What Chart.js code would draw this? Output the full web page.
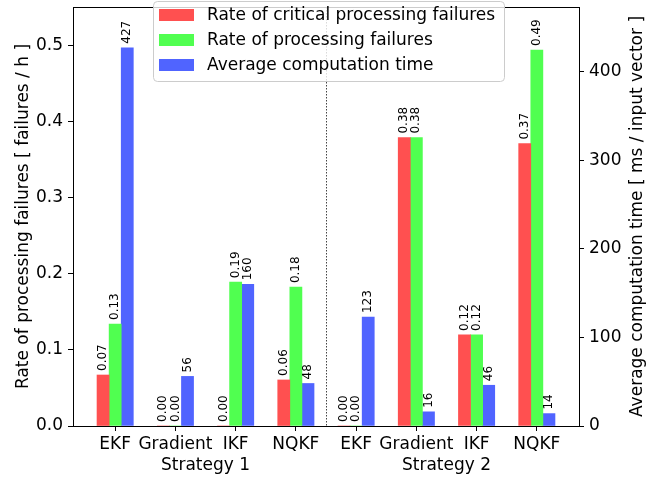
<!DOCTYPE html>
<html>
<head>
<meta charset="utf-8">
<script src="https://cdn.jsdelivr.net/npm/chart.js@4"></script>
<style>
  html, body { margin: 0; padding: 0; background: #fff; }
  #wrap { width: 667px; height: 479px; }
</style>
</head>
<body>
<div id="wrap"><canvas id="myChart"></canvas></div>
<script>
// data
const categories = ['EKF', 'Gradient', 'IKF', 'NQKF', 'EKF', 'Gradient', 'IKF', 'NQKF'];
const groups = ['Strategy 1', 'Strategy 2'];
const critFailures = [0.067, 0, 0, 0.0605, 0, 0.379, 0.1197, 0.371];
const allFailures = [0.134, 0, 0.189, 0.1825, 0, 0.379, 0.1197, 0.494];
const compTime = [427, 56, 160, 48, 123, 16, 46, 14];
const leftTicks = [0, 0.1, 0.2, 0.3, 0.4, 0.5];
const rightTicks = [0, 100, 200, 300, 400];

const seriesNames = ['Rate of critical processing failures', 'Rate of processing failures', 'Average computation time'];
const colors = ['#ff5050', '#50ff50', '#5064ff'];
const FONT = 'DejaVu Sans';
const BIG = 17;

const ctx = document.getElementById('myChart').getContext('2d');

function toPoints(arr) {
    return arr.map((v, i) => ({ x: i, y: v }));
}

// value labels above every bar, rotated like the original
const barLabels = {
    id: 'barLabels',
    afterDatasetsDraw(chart) {
        const c = chart.ctx;
        c.save();
        c.font = '12px "' + FONT + '"';
        c.fillStyle = '#000';
        c.textAlign = 'left';
        c.textBaseline = 'middle';
        chart.data.datasets.forEach((ds, di) => {
            const meta = chart.getDatasetMeta(di);
            meta.data.forEach((el, i) => {
                const v = ds.data[i].y;
                const txt = di < 2 ? v.toFixed(2) : String(Math.round(v));
                c.save();
                c.translate(el.x, el.y - 4);
                c.rotate(-Math.PI / 2);
                c.fillText(txt, 0, 0);
                c.restore();
            });
        });
        c.restore();
    }
};

// frame, separator, group names, axis titles and legend
const decor = {
    id: 'decor',
    afterDraw(chart) {
        const c = chart.ctx;
        const a = chart.chartArea;
        const xs = chart.scales.x;
        c.save();
        // dotted separator
        c.strokeStyle = '#444';
        c.lineWidth = 1;
        c.setLineDash([1.5, 1.5]);
        const sx = Math.round(xs.getPixelForValue(3.5)) + 0.5;
        c.beginPath();
        c.moveTo(sx, a.top);
        c.lineTo(sx, a.bottom);
        c.stroke();
        c.setLineDash([]);
        // box
        c.strokeStyle = '#000';
        c.strokeRect(Math.round(a.left) + 0.5, Math.round(a.top) + 0.5, Math.round(a.right - a.left), Math.round(a.bottom - a.top));

        c.fillStyle = '#000';
        c.font = BIG + 'px "' + FONT + '"';
        c.textAlign = 'center';
        c.textBaseline = 'alphabetic';
        c.fillText(groups[0], xs.getPixelForValue(1.5), 470);
        c.fillText(groups[1], xs.getPixelForValue(5.5), 470);

        const cy = (a.top + a.bottom) / 2;
        c.save();
        c.translate(27.5, cy);
        c.rotate(-Math.PI / 2);
        c.fillText('Rate of processing failures [ failures / h ]', 0, 0);
        c.restore();
        c.save();
        c.translate(641.5, cy);
        c.rotate(-Math.PI / 2);
        c.fillText('Average computation time [ ms / input vector ]', 0, 0);
        c.restore();

        // legend
        const lx = 153, ly = 1, lw = 351, lh = 80;
        c.fillStyle = 'rgba(255,255,255,0.8)';
        c.strokeStyle = '#cccccc';
        c.beginPath();
        c.roundRect(lx + 0.5, ly + 0.5, lw, lh, 4);
        c.fill();
        c.stroke();
        c.textAlign = 'left';
        c.textBaseline = 'middle';
        seriesNames.forEach((name, i) => {
            const y = 15 + i * 25;
            c.fillStyle = colors[i];
            c.fillRect(159, y - 6, 35, 12);
            c.fillStyle = '#000';
            c.fillText(name, 207, y + 1);
        });
        c.restore();
    }
};

function noPad(s) {
    s.paddingTop = 0;
    s.paddingBottom = 0;
    s.paddingLeft = 0;
    s.paddingRight = 0;
}

const myChart = new Chart(ctx, {
    type: 'bar',
    data: {
        datasets: [
            { label: seriesNames[0], data: toPoints(critFailures), backgroundColor: colors[0], yAxisID: 'y' },
            { label: seriesNames[1], data: toPoints(allFailures), backgroundColor: colors[1], yAxisID: 'y' },
            { label: seriesNames[2], data: toPoints(compTime), backgroundColor: colors[2], yAxisID: 'y2' }
        ]
    },
    options: {
        responsive: true,
        maintainAspectRatio: false,
        animation: false,
        layout: { padding: { top: 7, left: 0, right: 0, bottom: 0 } },
        datasets: { bar: { barThickness: 12.1, borderWidth: 0 } },
        plugins: {
            legend: { display: false },
            tooltip: { enabled: false }
        },
        scales: {
            x: {
                type: 'linear',
                offset: false,
                min: -0.7,
                max: 7.7,
                afterBuildTicks: s => { s.ticks = categories.map((c, i) => ({ value: i })); },
                afterFit: s => { s.height = 53; noPad(s); },
                ticks: {
                    callback: v => categories[v],
                    font: { family: FONT, size: BIG },
                    color: '#000',
                    padding: 3,
                    maxRotation: 0,
                    autoSkip: false
                },
                grid: { offset: false, drawOnChartArea: false, color: '#000', tickLength: 5 },
                border: { color: '#000' }
            },
            y: {
                position: 'left',
                min: 0,
                max: 0.5505,
                afterBuildTicks: s => { s.ticks = leftTicks.map(v => ({ value: v })); },
                afterFit: s => { s.width = 73; noPad(s); },
                ticks: {
                    callback: v => v.toFixed(1),
                    font: { family: FONT, size: BIG },
                    color: '#000',
                    padding: 5
                },
                grid: { drawOnChartArea: false, color: '#000', tickLength: 5 },
                border: { color: '#000' }
            },
            y2: {
                position: 'right',
                min: 0,
                max: 473,
                afterBuildTicks: s => { s.ticks = rightTicks.map(v => ({ value: v })); },
                afterFit: s => { s.width = 88; noPad(s); },
                ticks: {
                    font: { family: FONT, size: BIG },
                    color: '#000',
                    padding: 5
                },
                grid: { drawOnChartArea: false, color: '#000', tickLength: 5 },
                border: { color: '#000' }
            }
        }
    },
    plugins: [barLabels, decor]
});
</script>
</body>
</html>
